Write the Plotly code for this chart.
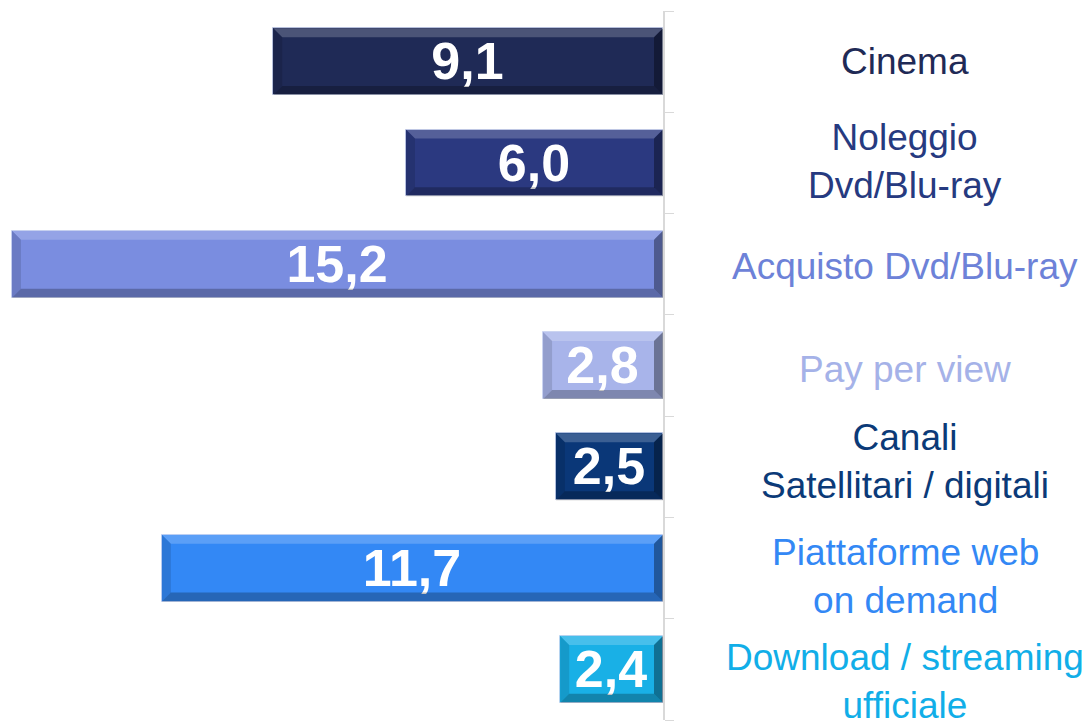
import plotly.graph_objects as go

# Categories (top to bottom), values and colours
categories = [
    "Cinema",
    "Noleggio<br>Dvd/Blu-ray",
    "Acquisto Dvd/Blu-ray",
    "Pay per view",
    "Canali<br>Satellitari / digitali",
    "Piattaforme web<br>on demand",
    "Download / streaming<br>ufficiale",
]
values = [9.1, 6.0, 15.2, 2.8, 2.5, 11.7, 2.4]
bar_colors = ["#1f2a56", "#2b3980", "#7a8de0", "#a8b4ea", "#0a3778", "#3388f5", "#19b0e6"]
label_colors = ["#1f2a56", "#263a80", "#6d82d8", "#a5b2e8", "#0b3a78", "#3388f5", "#11aee8"]
# vertical nudge of each label (plotly: positive = up)
label_shift = [0, 1, -2, -4, 5, -8, -12]

positions = list(range(len(categories)))
BAR_W = 0.66
X_MAX = 15.48
FONT = "Liberation Sans"

fig = go.Figure()
fig.add_trace(go.Bar(
    x=values,
    y=positions,
    orientation="h",
    width=BAR_W,
    marker=dict(color=bar_colors, line=dict(color="rgba(200,210,240,0.7)", width=1)),
    texttemplate="%{x:.1f}",
    textposition="inside",
    insidetextanchor="middle",
    constraintext="none",
    textangle=0,
    textfont=dict(family=FONT, size=52, color="white", weight="bold"),
    hoverinfo="skip",
))

# Bevelled edges on each bar
shapes = []
bx = 9 / 42.83
by = 9 / 101.3
h = BAR_W / 2
for i, v in enumerate(values):
    top, bot = i - h, i + h
    strips = [
        # top highlight
        (f"M {v},{top} L 0,{top} L {bx},{top + by} L {v - bx},{top + by} Z", "rgba(255,255,255,0.2)"),
        # bottom shade
        (f"M {v},{bot} L 0,{bot} L {bx},{bot - by} L {v - bx},{bot - by} Z", "rgba(0,0,0,0.25)"),
        # right shade
        (f"M 0,{top} L 0,{bot} L {bx},{bot - by} L {bx},{top + by} Z", "rgba(0,0,0,0.36)"),
        # left shade
        (f"M {v},{top} L {v},{bot} L {v - bx},{bot - by} L {v - bx},{top + by} Z", "rgba(0,0,0,0.12)"),
    ]
    for path, col in strips:
        shapes.append(dict(type="path", path=path, xref="x", yref="y",
                           fillcolor=col, line=dict(width=0), layer="above"))

# Category labels on the right of the axis
plot_w = 663
annotations = []
for i, (cat, col) in enumerate(zip(categories, label_colors)):
    annotations.append(dict(
        x=905 / plot_w, xref="paper", y=i, yref="y",
        text=cat, showarrow=False, xanchor="center", yanchor="middle",
        align="center", yshift=label_shift[i],
        font=dict(family=FONT, size=37, color=col),
    ))

fig.update_layout(
    width=1091,
    height=721,
    margin=dict(l=0, r=428, t=11, b=1),
    paper_bgcolor="white",
    plot_bgcolor="white",
    separators=",.",
    showlegend=False,
    bargap=0,
    shapes=shapes,
    annotations=annotations,
    xaxis=dict(range=[X_MAX, 0], visible=False, fixedrange=True),
    yaxis=dict(
        range=[6.5, -0.5],
        side="right",
        showline=True,
        linecolor="#d9d9d9",
        linewidth=2,
        ticks="outside",
        ticklen=9,
        tickwidth=1,
        tickcolor="#d9d9d9",
        tickvals=[p - 0.5 for p in positions] + [len(positions) - 0.5],
        showticklabels=False,
        showgrid=False,
        zeroline=False,
        fixedrange=True,
    ),
)

fig.write_html("out.html")
